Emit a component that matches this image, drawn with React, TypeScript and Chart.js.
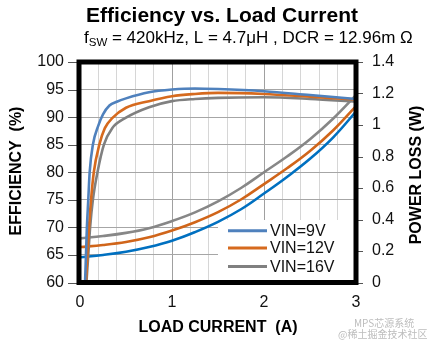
import React, { useEffect, useRef } from "react";
import { Chart, registerables } from "chart.js";

Chart.register(...registerables);

const titleText = "Efficiency vs. Load Current";
const subtitleParts = ["f", "SW", " = 420kHz, L = 4.7μH , DCR = 12.96m Ω"];
const xTitle = "LOAD CURRENT  (A)";
const yTitle = "EFFICIENCY  (%)";
const y1Title = "POWER LOSS (W)";
const seriesNames = ["VIN=9V", "VIN=12V", "VIN=16V"];

// Efficiency curves (left axis)
const effCurrent9 = [0.055, 0.065, 0.075, 0.09, 0.105, 0.14, 0.2, 0.25, 0.32, 0.4, 0.5, 0.75, 1.0, 1.25, 1.5, 2.0, 2.5, 3.0];
const eff9 = [60, 65, 70, 75, 80, 85, 88.5, 90.5, 92.1, 92.8, 93.4, 94.5, 95.0, 95.2, 95.1, 94.7, 94.0, 93.3];
const effCurrent12 = [0.065, 0.08, 0.098, 0.12, 0.15, 0.21, 0.27, 0.35, 0.5, 0.75, 1.0, 1.25, 1.5, 2.0, 2.5, 3.0];
const eff12 = [60, 65, 70, 75, 80, 85, 88, 89.8, 91.7, 92.9, 93.8, 94.2, 94.4, 94.2, 93.7, 93.2];
const effCurrent16 = [0.07, 0.09, 0.11, 0.14, 0.19, 0.26, 0.35, 0.5, 0.75, 1.0, 1.25, 1.5, 2.0, 2.5, 3.0];
const eff16 = [60, 65, 70, 75, 80, 85, 88, 89.9, 91.8, 92.9, 93.3, 93.5, 93.6, 93.3, 92.8];

// Power loss curves (right axis)
const lossCurrent = [0, 0.25, 0.5, 0.75, 1.0, 1.25, 1.5, 1.75, 2.0, 2.25, 2.5, 2.75, 3.0];
const loss9 = [0.16, 0.175, 0.195, 0.225, 0.265, 0.32, 0.385, 0.465, 0.565, 0.67, 0.785, 0.92, 1.085];
const loss12 = [0.225, 0.238, 0.257, 0.287, 0.33, 0.383, 0.447, 0.527, 0.625, 0.725, 0.835, 0.965, 1.12];
const loss16 = [0.28, 0.295, 0.315, 0.345, 0.39, 0.445, 0.515, 0.6, 0.7, 0.8, 0.91, 1.04, 1.19];

const effColors = ["#4F81BD", "#D66A1E", "#808080"];
const lossColors = ["#0070C0", "#D0651A", "#878787"];

const pts = (xs: number[], ys: number[]) => xs.map((x, i) => ({ x, y: ys[i] }));

export default function App() {
  const ref = useRef<HTMLCanvasElement | null>(null);

  useEffect(() => {
    document.body.style.margin = "0";
    document.body.style.background = "#ffffff";
    const canvas = ref.current!;
    const FONT = "Arial, 'Liberation Sans', sans-serif";

    const overlay = {
      id: "overlay",
      beforeDatasetsDraw(chart: any) {
        const { ctx, chartArea: a } = chart;
        ctx.save();
        // legend box
        ctx.fillStyle = "#ffffff";
        ctx.fillRect(218, 220, a.right - 218, a.bottom - 220);
        const rows = [230.7, 248, 266.5];
        ctx.font = `16px ${FONT}`;
        ctx.textBaseline = "middle";
        ctx.textAlign = "left";
        seriesNames.forEach((n, i) => {
          ctx.strokeStyle = effColors[i];
          ctx.lineWidth = 3;
          ctx.beginPath();
          ctx.moveTo(228, rows[i]);
          ctx.lineTo(267, rows[i]);
          ctx.stroke();
          ctx.fillStyle = "#111";
          ctx.fillText(n, 270, rows[i] + 1);
        });
        ctx.restore();
      },
      afterDraw(chart: any) {
        const { ctx, chartArea: a, scales } = chart;
        ctx.save();
        // tick marks
        ctx.strokeStyle = "#555";
        ctx.lineWidth = 1;
        scales.y.ticks.forEach((t: any) => {
          const y = Math.round(scales.y.getPixelForValue(t.value)) + 0.5;
          ctx.beginPath();
          ctx.moveTo(a.left - 12, y);
          ctx.lineTo(a.left, y);
          ctx.stroke();
        });
        scales.y1.ticks.forEach((t: any) => {
          const y = Math.round(scales.y1.getPixelForValue(t.value)) + 0.5;
          ctx.beginPath();
          ctx.moveTo(a.right, y);
          ctx.lineTo(a.right + 7, y);
          ctx.stroke();
        });
        // border
        ctx.strokeStyle = "#000";
        ctx.lineWidth = 5;
        ctx.strokeRect(a.left - 1, a.top, a.right - a.left + 1, a.bottom - a.top);

        ctx.fillStyle = "#000";
        // title
        ctx.font = `bold 21px ${FONT}`;
        ctx.textAlign = "center";
        ctx.textBaseline = "alphabetic";
        ctx.fillText(titleText, 222, 22);
        // subtitle with subscript
        ctx.textAlign = "left";
        let x = 84;
        ctx.font = `17px ${FONT}`;
        ctx.fillText(subtitleParts[0], x, 43);
        x += ctx.measureText(subtitleParts[0]).width;
        ctx.font = `11.5px ${FONT}`;
        ctx.fillText(subtitleParts[1], x, 46);
        x += ctx.measureText(subtitleParts[1]).width;
        ctx.font = `17px ${FONT}`;
        ctx.fillText(subtitleParts[2], x, 43);

        // axis titles
        ctx.font = `bold 16px ${FONT}`;
        ctx.textAlign = "center";
        ctx.textBaseline = "middle";
        ctx.fillText(xTitle, 218, 328);
        ctx.save();
        ctx.translate(17, 171);
        ctx.rotate(-Math.PI / 2);
        ctx.fillText(yTitle, 0, 0);
        ctx.restore();
        ctx.save();
        ctx.translate(417, 175);
        ctx.rotate(-Math.PI / 2);
        ctx.fillText(y1Title, 0, 0);
        ctx.restore();

        // watermark
        ctx.fillStyle = "#bdbdbd";
        ctx.font = `10px 'Noto Sans CJK SC', sans-serif`;
        ctx.textAlign = "left";
        ctx.fillText("MPS芯源系统", 354, 323);
        ctx.fillText("@稀土掘金技术社区", 338, 334);
        ctx.restore();
      },
    };

    const mk = (label: string, data: any[], color: string, axis: string, mono: boolean) => ({
      label,
      data,
      borderColor: color,
      backgroundColor: color,
      borderWidth: 2.6,
      pointRadius: 0,
      fill: false,
      cubicInterpolationMode: mono ? ("monotone" as const) : ("default" as const),
      tension: mono ? 0 : 0.4,
      yAxisID: axis,
    });

    const chart = new Chart(canvas, {
      type: "line",
      data: {
        datasets: [
          mk(seriesNames[0], pts(effCurrent9, eff9), effColors[0], "y", true),
          mk(seriesNames[1], pts(effCurrent12, eff12), effColors[1], "y", true),
          mk(seriesNames[2], pts(effCurrent16, eff16), effColors[2], "y", true),
          mk(seriesNames[0] + " loss", pts(lossCurrent, loss9), lossColors[0], "y1", false),
          mk(seriesNames[1] + " loss", pts(lossCurrent, loss12), lossColors[1], "y1", false),
          mk(seriesNames[2] + " loss", pts(lossCurrent, loss16), lossColors[2], "y1", false),
        ],
      },
      options: {
        animation: false,
        responsive: false,
        devicePixelRatio: 1,
        layout: { padding: { top: 62, left: 0, right: 0, bottom: 0 } },
        plugins: { legend: { display: false }, title: { display: false }, tooltip: { enabled: false } },
        scales: {
          x: {
            type: "linear",
            min: 0,
            max: 3,
            afterFit: (s: any) => { s.height = 58.5; },
            border: { display: false },
            grid: {
              drawTicks: false,
              color: (c: any) => {
                const v = c.tick ? c.tick.value : 0;
                return Math.abs(v - Math.round(v)) < 1e-6 ? "#a0a0a0" : "#d6d6d6";
              },
              lineWidth: 1,
            },
            ticks: {
              stepSize: 0.2,
              padding: 10,
              color: "#111",
              font: { family: FONT, size: 16 },
              autoSkip: false,
              maxRotation: 0,
              callback: (v: any) => {
                const n = Number(v);
                return Math.abs(n - Math.round(n)) < 1e-6 ? String(Math.round(n)) : "";
              },
            },
          },
          y: {
            position: "left",
            min: 60,
            max: 100,
            afterFit: (s: any) => { s.width = 80; },
            border: { display: false },
            grid: { drawTicks: false, color: "#a6a6a6", lineWidth: 1 },
            ticks: { stepSize: 5, padding: 16, color: "#111", font: { family: FONT, size: 16 } },
          },
          y1: {
            position: "right",
            min: 0,
            max: 1.4,
            afterFit: (s: any) => { s.width = 73; },
            border: { display: false },
            grid: { drawOnChartArea: false, drawTicks: false },
            ticks: {
              stepSize: 0.2,
              padding: 16,
              color: "#111",
              font: { family: FONT, size: 16 },
              callback: (v: any) => String(Math.round(Number(v) * 10) / 10),
            },
          },
        },
      },
      plugins: [overlay],
    } as any);

    return () => chart.destroy();
  }, []);

  return <canvas ref={ref} width={429} height={341} style={{ display: "block", width: 429, height: 341 }} />;
}
